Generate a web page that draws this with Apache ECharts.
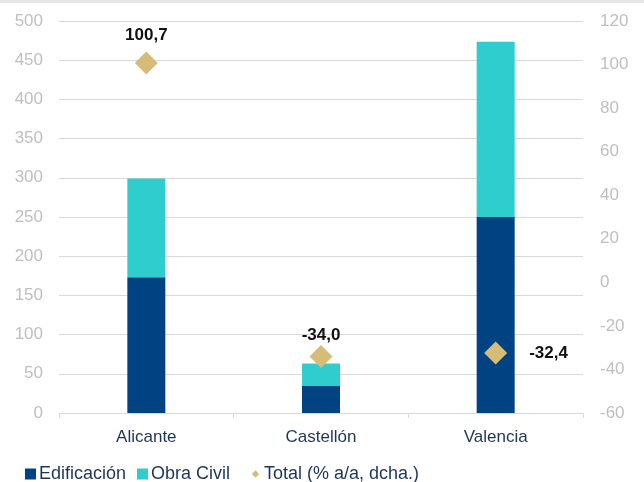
<!DOCTYPE html>
<html>
<head>
<meta charset="utf-8">
<script src="https://cdn.jsdelivr.net/npm/echarts@6/dist/echarts.min.js"></script>
<style>
html,body{margin:0;padding:0;background:#fff;}
#c{width:644px;height:482px;}
</style>
</head>
<body>
<div id="c"></div>
<script>
var categories = ['Alicante', 'Castellón', 'Valencia'];
var edificacion = [173, 34.5, 250];
var obraCivil = [126, 28.5, 223.5];
var totalPct = [100.7, -34.0, -32.4];
var leftTicks = [0, 500, 50];
var rightTicks = [-60, 120, 20];
var seriesNames = ['Edificación', 'Obra Civil', 'Total (% a/a, dcha.)'];

var chart = echarts.init(document.getElementById('c'), null, {renderer: 'canvas'});
var font = 'Liberation Sans, Arial, sans-serif';
var gridColor = '#d9d9d9';
var labelGray = '#bfbfbf';
var navy = '#1f3459';

function legendAt(left, name, icon) {
  return {
    left: left, top: 465, padding: 0,
    itemWidth: 11, itemHeight: 11,
    textStyle: {fontSize: 18, color: navy, fontFamily: font, padding: [0, 0, 0, -2]},
    data: [{name: name, icon: icon}]
  };
}

chart.setOption({
  animation: false,
  textStyle: {fontFamily: font},
  graphic: [{
    type: 'rect', left: 0, top: 0,
    shape: {width: 644, height: 3},
    style: {fill: '#e6e6e6'}
  }],
  grid: {left: 59, right: 61, top: 21, bottom: 69},
  legend: [
    legendAt(25, seriesNames[0], 'rect'),
    legendAt(137, seriesNames[1], 'rect'),
    legendAt(250, seriesNames[2], 'path://M0,0 M12,12 M6,2 L10,6 L6,10 L2,6 Z')
  ],
  xAxis: {
    type: 'category',
    data: categories,
    boundaryGap: true,
    axisLine: {lineStyle: {color: gridColor, width: 1}},
    axisTick: {show: true, length: 5, lineStyle: {color: gridColor}},
    axisLabel: {color: navy, fontSize: 17, margin: 16, fontFamily: font}
  },
  yAxis: [{
    type: 'value',
    min: leftTicks[0], max: leftTicks[1], interval: leftTicks[2],
    axisLine: {show: false}, axisTick: {show: false},
    axisLabel: {color: labelGray, fontSize: 17, margin: 16, fontFamily: font},
    splitLine: {lineStyle: {color: gridColor, width: 1}}
  }, {
    type: 'value',
    min: rightTicks[0], max: rightTicks[1], interval: rightTicks[2],
    axisLine: {show: false}, axisTick: {show: false},
    axisLabel: {color: labelGray, fontSize: 17, margin: 17, fontFamily: font},
    splitLine: {show: false}
  }],
  series: [{
    name: seriesNames[0], type: 'bar', stack: 'a', barWidth: 38,
    itemStyle: {color: '#004282'},
    data: edificacion
  }, {
    name: seriesNames[1], type: 'bar', stack: 'a', barWidth: 38,
    itemStyle: {color: '#2fcdcd'},
    data: obraCivil
  }, {
    name: seriesNames[2], type: 'scatter', yAxisIndex: 1,
    symbol: 'diamond', symbolSize: 23,
    itemStyle: {color: '#d5bd78', opacity: 1},
    label: {
      show: true, fontSize: 17, fontWeight: 'bold', color: '#111111', fontFamily: font,
      formatter: function (p) { return p.value.toFixed(1).replace('.', ','); }
    },
    data: totalPct.map(function (v, i) {
      var lbl = i === 2 ? {position: 'right', distance: 22}
              : {position: 'top', distance: i === 0 ? 8 : 1};
      return {value: v, label: lbl};
    })
  }]
});
</script>
</body>
</html>
